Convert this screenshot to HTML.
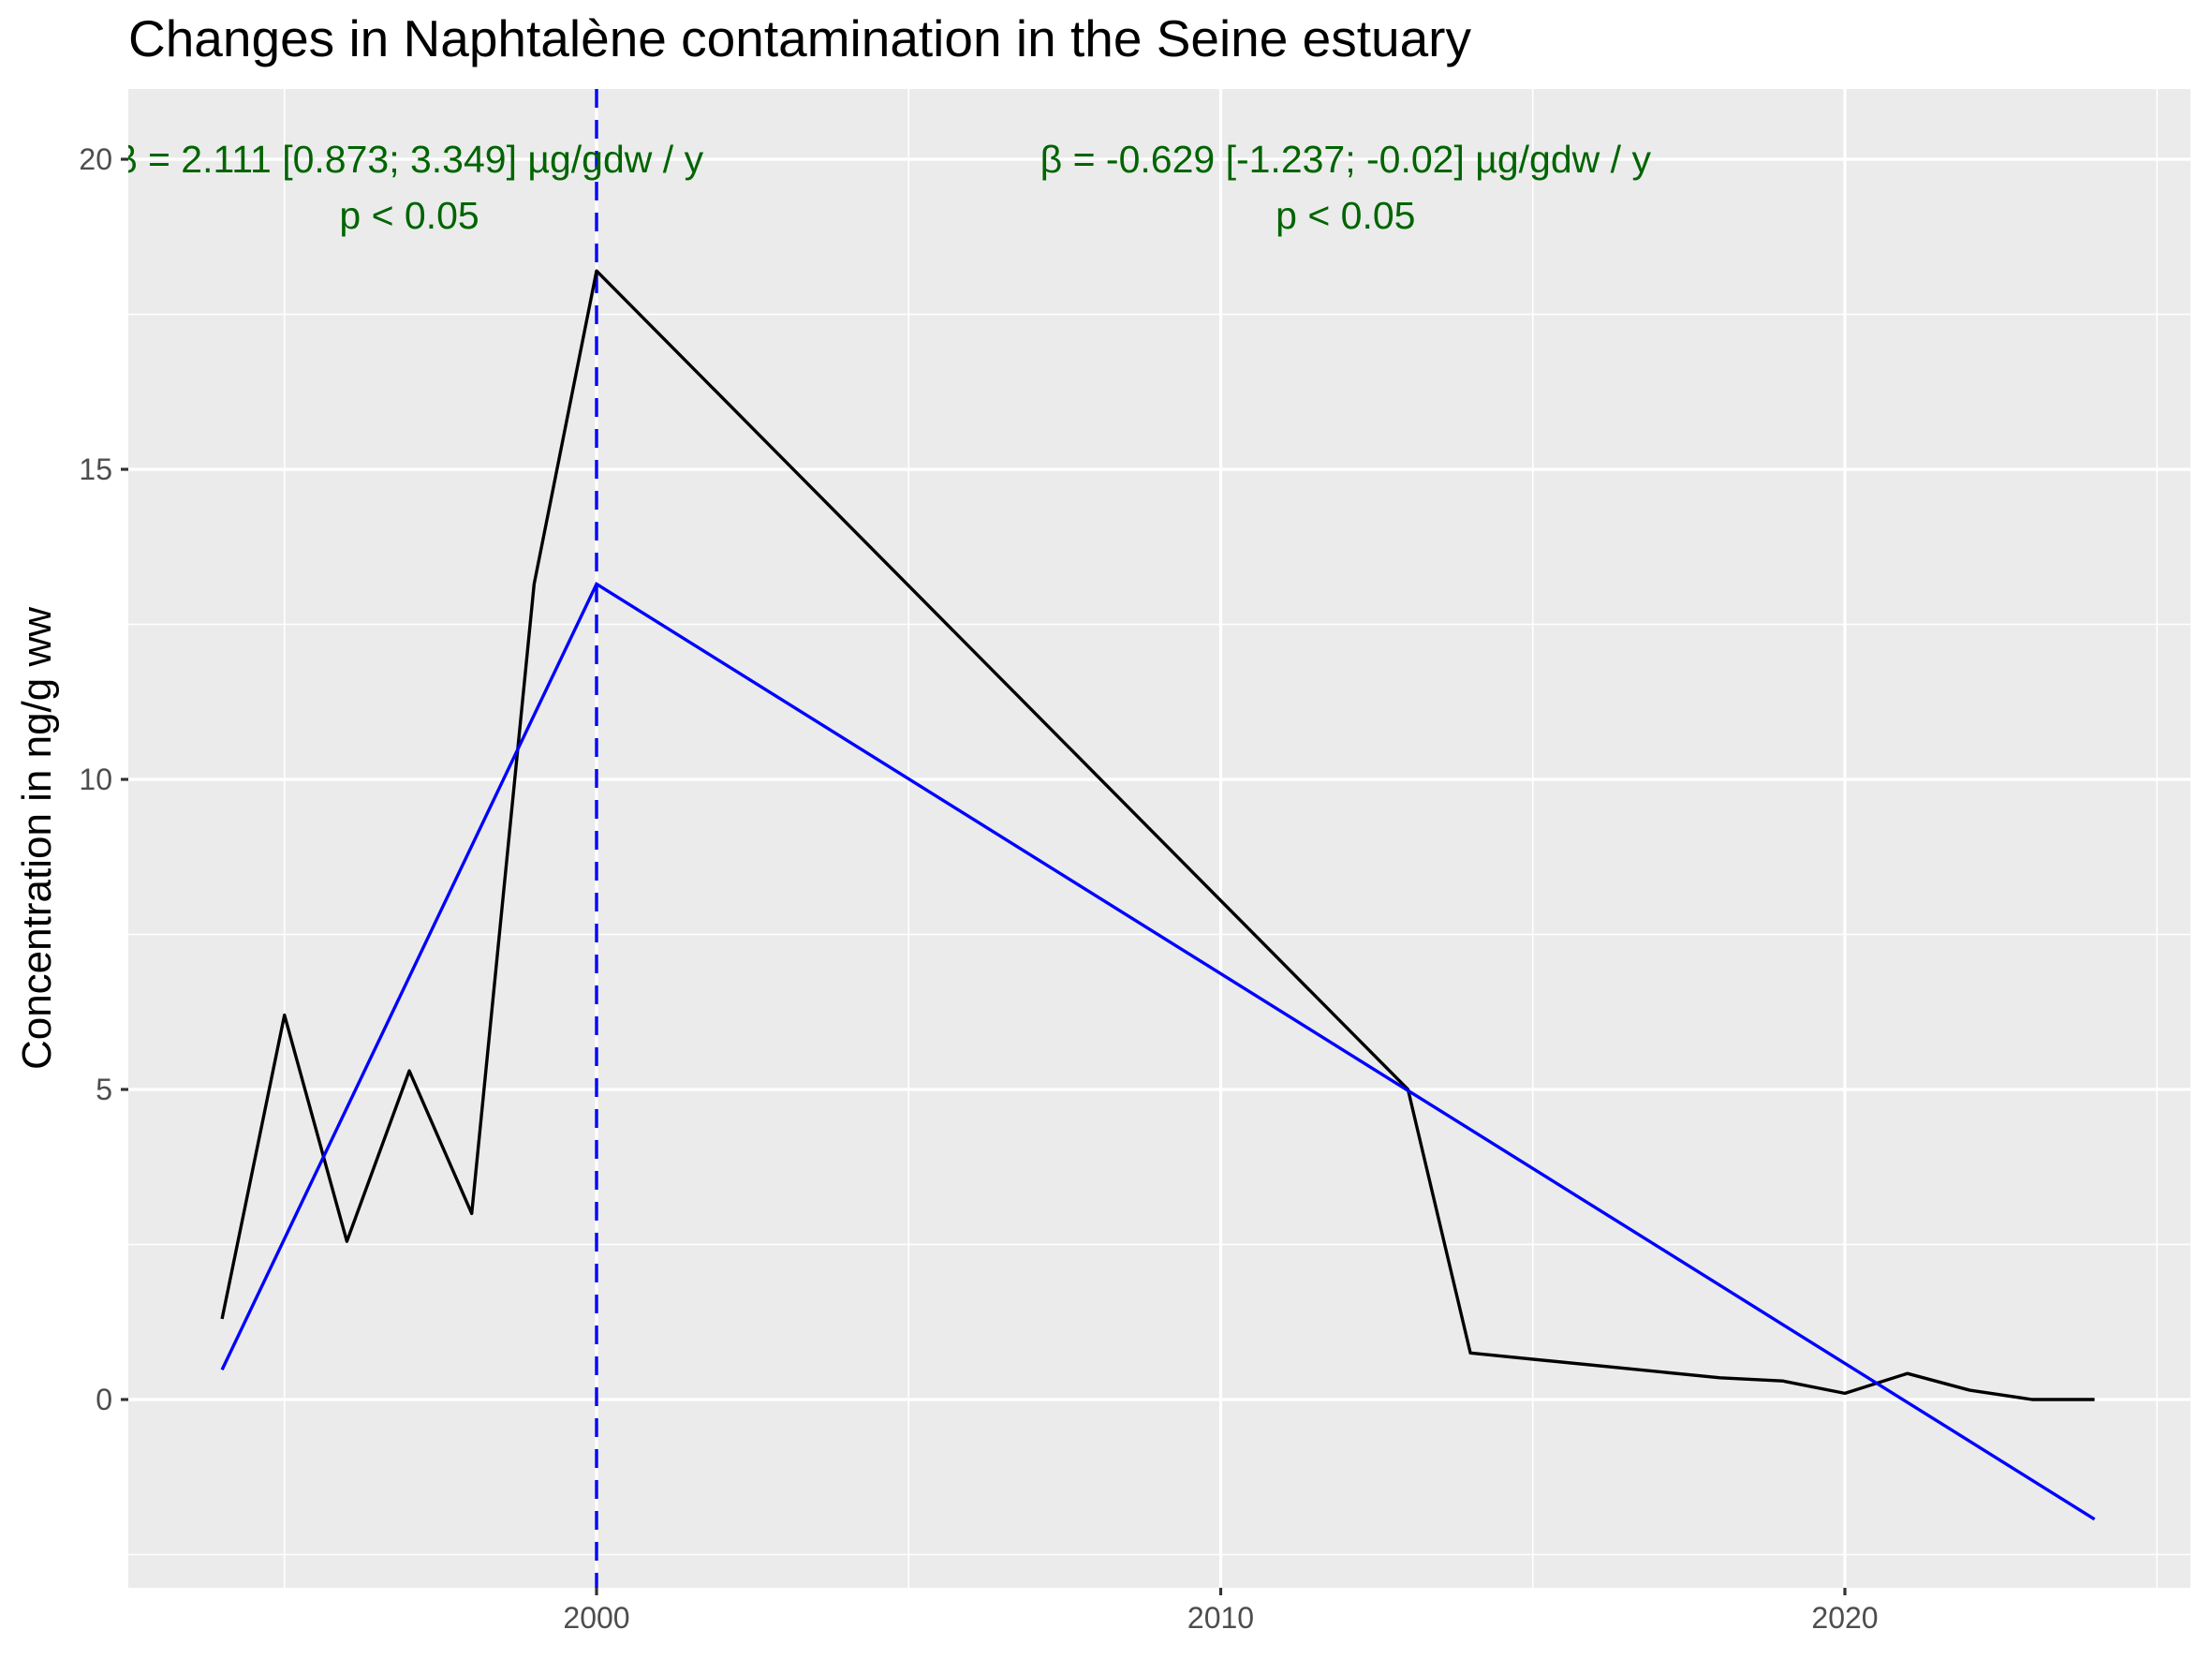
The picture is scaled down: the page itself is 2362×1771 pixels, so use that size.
<!DOCTYPE html>
<html><head><meta charset="utf-8"><style>
html,body{margin:0;padding:0;background:#fff;}
svg{display:block;font-family:"Liberation Sans",Arial,sans-serif;}
</style></head><body>
<svg id="chart" width="2362" height="1771" viewBox="0 0 2362 1771" xmlns="http://www.w3.org/2000/svg">
<defs><clipPath id="panelClip"><rect x="137" y="95" width="2202" height="1600"/></clipPath></defs>
<text x="137" y="60" font-size="55" fill="#000">Changes in Naphtalène contamination in the Seine estuary</text>
<rect x="137" y="95" width="2202" height="1600" fill="#ebebeb"/>
<g id="grid"></g>
<g id="marks" clip-path="url(#panelClip)"></g>
<g id="axes"></g>
<text transform="translate(54,895) rotate(-90)" text-anchor="middle" font-size="44" fill="#000">Concentration in ng/g ww</text>
</svg>
<script>
const years = [1994,1995,1996,1997,1998,1999,2000,2013,2014,2018,2019,2020,2021,2022,2023,2024];
const values = [1.3,6.2,2.55,5.3,3.0,13.15,18.2,5.0,0.75,0.35,0.3,0.1,0.42,0.15,0.0,0.0];
const fitYears = [1994,2000,2024];
const fitValues = [0.48,13.15,-1.93];
const breakYear = [2000];
const xTicks = [2000,2010,2020];
const xMinor = [1995,2005,2015,2025];
const yTicks = [0,5,10,15,20];
const yMinor = [-2.5,2.5,7.5,12.5,17.5];
const annotYears = [1997,2012];
const annotLine1 = ["β = 2.111 [0.873; 3.349] µg/gdw / y","β = -0.629 [-1.237; -0.02] µg/gdw / y"];
const annotLine2 = ["p < 0.05","p < 0.05"];

const NS="http://www.w3.org/2000/svg";
function X(v){return 637+(v-2000)*66.65;}
function Y(v){return 1494-v*66.2;}
function mk(tag,attrs,parent){const e=document.createElementNS(NS,tag);for(const k in attrs)e.setAttribute(k,attrs[k]);parent.appendChild(e);return e;}
const grid=document.getElementById('grid'),marks=document.getElementById('marks'),axes=document.getElementById('axes');
yMinor.forEach(v=>{const l=mk('line',{x1:137,x2:2339,y1:Y(v),y2:Y(v),stroke:'#fff','stroke-width':1.6},grid);

});
xMinor.forEach(v=>{const l=mk('line',{x1:X(v),x2:X(v),y1:95,y2:1695,stroke:'#fff','stroke-width':1.6},grid);

});
yTicks.forEach(v=>{const l=mk('line',{x1:137,x2:2339,y1:Y(v),y2:Y(v),stroke:'#fff','stroke-width':3.2},grid);


const t=mk('line',{x1:129,x2:137,y1:Y(v),y2:Y(v),stroke:'#333','stroke-width':3.2},axes);


const tx=mk('text',{x:120,y:Y(v)+11,'text-anchor':'end','font-size':32,fill:'#4d4d4d'},axes);tx.textContent=v;

});
xTicks.forEach(v=>{const l=mk('line',{x1:X(v),x2:X(v),y1:95,y2:1695,stroke:'#fff','stroke-width':3.2},grid);


const t=mk('line',{x1:X(v),x2:X(v),y1:1695,y2:1703,stroke:'#333','stroke-width':3.2},axes);


const tx=mk('text',{x:X(v),y:1738,'text-anchor':'middle','font-size':32,fill:'#4d4d4d'},axes);tx.textContent=v;

});
breakYear.forEach(v=>{const l=mk('line',{x1:X(v),x2:X(v),y1:95,y2:1695,stroke:'#0000ff','stroke-width':3.4,'stroke-dasharray':'20 13'},marks);

});
const p=mk('polyline',{points:years.map((y,i)=>X(y)+','+Y(values[i])).join(' '),fill:'none',stroke:'#000','stroke-width':3.4,'stroke-linejoin':'round'},marks);


const f=mk('polyline',{points:fitYears.map((y,i)=>X(y)+','+Y(fitValues[i])).join(' '),fill:'none',stroke:'#0000ff','stroke-width':3.4},marks);


annotYears.forEach((yr,i)=>{
const a=mk('text',{x:X(yr),y:Y(20)+14,'text-anchor':'middle','font-size':41,fill:'#006400'},marks);a.textContent=annotLine1[i];


const b=mk('text',{x:X(yr),y:Y(20)+74,'text-anchor':'middle','font-size':41,fill:'#006400'},marks);b.textContent=annotLine2[i];

});
</script>
</body></html>
